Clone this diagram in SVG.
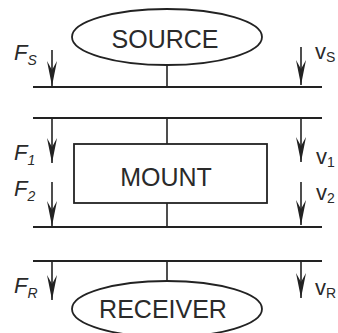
<svg xmlns="http://www.w3.org/2000/svg" width="338" height="333" viewBox="0 0 338 333">
<style>
.bar{stroke:#222;stroke-width:2.2;fill:none}
.stem{stroke:#222;stroke-width:1.6;fill:none}
.shape{stroke:#222;stroke-width:1.8;fill:#fff}
.arr{stroke:#222;stroke-width:1.6;fill:none}
.lbl{font-family:"Liberation Sans",Arial,sans-serif;font-size:25px;fill:#2a2a2a;text-anchor:middle}
.sym{font-family:"Liberation Sans",Arial,sans-serif;font-style:italic;font-size:22px;fill:#2a2a2a}
.sub{font-size:14px}
.vs{font-family:"Liberation Sans",Arial,sans-serif;font-size:22px;fill:#2a2a2a}
</style>
<defs>
<marker id="head" markerUnits="userSpaceOnUse" markerWidth="28" markerHeight="14" viewBox="-26 -7 28 14" refX="0" refY="0" orient="auto">
<path d="M0,0 L-25,-5 L-16,0 L-25,5 Z" fill="#222"/>
</marker>
</defs>
<rect width="338" height="333" fill="#fff"/>
<g id="connectors">
<line class="bar" x1="33" y1="87" x2="322" y2="87"/>
<line class="bar" x1="33" y1="118" x2="322" y2="118"/>
<line class="bar" x1="33" y1="227" x2="322" y2="227"/>
<line class="bar" x1="33" y1="261" x2="322" y2="261"/>
<line class="stem" x1="167" y1="65" x2="167" y2="87"/>
<line class="stem" x1="167" y1="118" x2="167" y2="144"/>
<line class="stem" x1="167" y1="203" x2="167" y2="227"/>
<line class="stem" x1="167" y1="261" x2="167" y2="281"/>
<line class="arr" x1="52" y1="50" x2="52" y2="86" marker-end="url(#head)"/>
<line class="arr" x1="301" y1="47" x2="301" y2="85" marker-end="url(#head)"/>
<line class="arr" x1="52" y1="118" x2="52" y2="163" marker-end="url(#head)"/>
<line class="arr" x1="301" y1="118" x2="301" y2="162" marker-end="url(#head)"/>
<line class="arr" x1="52" y1="182" x2="52" y2="226" marker-end="url(#head)"/>
<line class="arr" x1="301" y1="182" x2="301" y2="225" marker-end="url(#head)"/>
<line class="arr" x1="52" y1="261" x2="52" y2="300" marker-end="url(#head)"/>
<line class="arr" x1="301" y1="261" x2="301" y2="298" marker-end="url(#head)"/>
</g>
<g id="source">
<ellipse class="shape" cx="167" cy="37" rx="95" ry="28"/>
<text class="lbl" x="165" y="48">SOURCE</text>
</g>
<g id="mount">
<rect class="shape" x="74" y="144" width="193" height="59"/>
<text class="lbl" x="166" y="186">MOUNT</text>
</g>
<g id="receiver">
<ellipse class="shape" cx="167" cy="309" rx="95" ry="28"/>
<text class="lbl" x="163" y="318">RECEIVER</text>
</g>
<g id="labels">
<text class="sym" x="14" y="60">F<tspan class="sub" dy="5">S</tspan></text>
<text class="vs" x="315" y="59">v<tspan class="sub" dy="3">S</tspan></text>
<text class="sym" x="14" y="160">F<tspan class="sub" dy="5">1</tspan></text>
<text class="vs" x="316" y="164">v<tspan class="sub" dy="3">1</tspan></text>
<text class="sym" x="14" y="196">F<tspan class="sub" dy="5">2</tspan></text>
<text class="vs" x="316" y="200">v<tspan class="sub" dy="3">2</tspan></text>
<text class="sym" x="14" y="293">F<tspan class="sub" dy="5">R</tspan></text>
<text class="vs" x="315" y="295">v<tspan class="sub" dy="3">R</tspan></text>
</g>
</svg>
